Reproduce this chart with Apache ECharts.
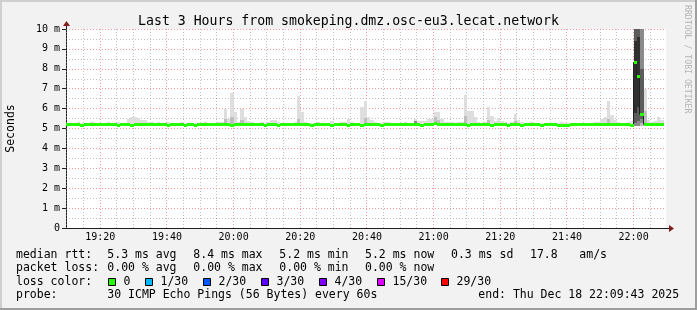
<!DOCTYPE html>
<html><head><meta charset="utf-8">
<script src="https://cdn.jsdelivr.net/npm/echarts@6/dist/echarts.min.js"></script>
<style>html,body{margin:0;padding:0;background:#f2f2f2}#c{width:697px;height:310px}</style>
</head><body><div id="c"></div>
<script>
const FONT = "'DejaVu Sans Mono', monospace";
const titleText = 'Last 3 Hours from smokeping.dmz.osc-eu3.lecat.network';
const startMin = 19 * 60 + 9 + 43 / 60;   // 19:09:43
const endMin = startMin + 180;             // 22:09:43
const firstStepEnd = 19 * 60 + 10;         // first 60 s step ends 19:10
const xTickLabels = ['19:20','19:40','20:00','20:20','20:40','21:00','21:20','21:40','22:00'];
const yTickLabels = ['0','1 m','2 m','3 m','4 m','5 m','6 m','7 m','8 m','9 m','10 m'];

// median rtt per minute (ms)
const median = [
5.2,5.2,5.2,5.2,5.2,5.15,5.2,5.2,5.2,5.2,
5.2,5.2,5.2,5.2,5.2,5.2,5.15,5.2,5.2,5.2,
5.15,5.2,5.2,5.2,5.2,5.2,5.2,5.2,5.2,5.2,
5.2,5.15,5.2,5.2,5.2,5.2,5.15,5.2,5.2,5.15,
5.2,5.2,5.2,5.2,5.2,5.2,5.2,5.2,5.2,5.2,
5.15,5.2,5.2,5.2,5.2,5.2,5.2,5.2,5.2,5.2,
5.15,5.2,5.2,5.2,5.15,5.2,5.2,5.2,5.2,5.2,
5.2,5.2,5.2,5.2,5.15,5.2,5.2,5.2,5.2,5.2,
5.15,5.2,5.2,5.2,5.2,5.15,5.2,5.2,5.2,5.15,
5.2,5.2,5.2,5.2,5.2,5.15,5.2,5.2,5.2,5.2,
5.2,5.2,5.2,5.2,5.2,5.2,5.2,5.15,5.2,5.2,
5.2,5.25,5.2,5.2,5.2,5.2,5.2,5.2,5.2,5.2,
5.2,5.15,5.2,5.2,5.2,5.2,5.2,5.2,5.15,5.2,
5.2,5.2,5.2,5.15,5.2,5.2,5.2,5.15,5.2,5.2,
5.2,5.2,5.2,5.15,5.2,5.2,5.2,5.2,5.15,5.15,
5.15,5.15,5.2,5.2,5.2,5.2,5.2,5.2,5.2,5.2,
5.2,5.2,5.2,5.2,5.2,5.2,5.2,5.2,5.2,5.2,
5.15,8.33,7.63,5.7,5.2,5.2,5.2,5.2,5.2,5.2
];
// fastest ping per minute (ms)
const smokeLo = [
5.14,5.14,5.14,5.14,5.14,5.12,5.14,5.14,5.14,5.14,
5.14,5.14,5.14,5.14,5.14,5.14,5.12,5.14,5.14,5.14,
5.12,5.14,5.14,5.14,5.14,5.14,5.14,5.14,5.14,5.14,
5.14,5.12,5.14,5.14,5.14,5.14,5.12,5.14,5.14,5.12,
5.14,5.14,5.14,5.14,5.14,5.14,5.14,5.14,5.14,5.14,
5.12,5.14,5.14,5.14,5.14,5.14,5.14,5.14,5.14,5.14,
5.12,5.14,5.14,5.14,5.12,5.14,5.14,5.14,5.14,5.14,
5.14,5.14,5.14,5.14,5.12,5.14,5.14,5.14,5.14,5.14,
5.12,5.14,5.14,5.14,5.14,5.12,5.14,5.14,5.14,5.12,
5.14,5.14,5.14,5.14,5.14,5.12,5.14,5.14,5.14,5.14,
5.14,5.14,5.14,5.14,5.14,5.14,5.14,5.12,5.14,5.14,
5.14,5.16,5.14,5.14,5.14,5.14,5.14,5.14,5.14,5.14,
5.14,5.12,5.14,5.14,5.14,5.14,5.14,5.14,5.12,5.14,
5.14,5.14,5.14,5.12,5.14,5.14,5.14,5.12,5.14,5.14,
5.14,5.14,5.14,5.12,5.14,5.14,5.14,5.14,5.12,5.12,
5.12,5.12,5.14,5.14,5.14,5.14,5.14,5.14,5.14,5.14,
5.14,5.14,5.14,5.14,5.14,5.14,5.14,5.14,5.14,5.14,
5.12,5.14,5.14,5.14,5.14,5.14,5.14,5.14,5.14,5.14
];
// slowest ping per minute (ms)
const smokeHi = [
5.3,5.28,5.3,5.3,5.32,5.3,5.28,5.3,5.32,5.3,
5.3,5.3,5.3,5.32,5.3,5.3,5.32,5.3,5.3,5.5,
5.57,5.57,5.55,5.45,5.45,5.35,5.32,5.3,5.33,5.3,
5.3,5.32,5.3,5.3,5.3,5.32,5.3,5.3,5.3,5.3,
5.3,5.3,5.32,5.3,5.3,5.3,5.32,5.35,6.0,5.5,
6.8,5.82,5.35,6.0,5.6,5.4,5.35,5.3,5.3,5.32,
5.3,5.35,5.42,5.42,5.33,5.3,5.3,5.3,5.3,5.32,
6.65,5.82,5.35,5.3,5.3,5.3,5.32,5.3,5.3,5.3,
5.4,5.3,5.3,5.32,5.35,5.48,5.35,5.3,5.3,6.1,
6.37,5.57,5.45,5.32,5.3,5.3,5.35,5.35,5.3,5.3,
5.3,5.3,5.32,5.3,5.3,5.5,5.38,5.38,5.4,5.48,
5.48,5.85,5.85,5.5,5.35,5.33,5.33,5.3,5.32,5.35,
6.68,5.9,5.9,5.57,5.35,5.3,5.32,6.1,5.65,5.4,
5.53,5.4,5.33,5.3,5.32,5.73,5.45,5.33,5.3,5.3,
5.32,5.3,5.3,5.3,5.3,5.3,5.3,5.3,5.3,5.32,
5.3,5.3,5.3,5.3,5.3,5.3,5.3,5.3,5.3,5.35,
5.35,5.5,5.6,6.37,5.7,5.45,5.33,5.3,5.3,5.35,
5.4,12,12,12,7.0,5.45,5.35,5.38,5.57,5.45
];
// inner smoke bands: [minute index, low ms, high ms, shade level]
const smokeBands = [
[48,5.18,5.5,1],[50,5.18,5.6,1],[53,5.18,5.45,1],[70,5.18,5.5,1],
[90,5.18,5.55,1],[105,5.18,5.4,2],[111,5.18,5.6,1],[112,5.18,5.45,1],
[120,5.18,5.65,1],[127,5.18,5.45,1],[135,5.18,5.4,1],[163,5.18,5.5,1],
[171,5.15,12,2],[171,5.3,12,3],[171,5.8,9.4,4],
[172,5.15,12,2],[172,5.4,12,3],[172,6.1,9.6,4],
[173,5.15,12,1],[173,5.3,12,2],[173,5.5,8.0,3],
[174,5.18,5.9,1]
];
const shade = ['#dedede','#bdbdbd','#8a8a8a','#5c5c5c','#303030'];
const lossColor0 = '#26ff00';

const rttStats = ['5.3 ms avg','8.4 ms max','5.2 ms min','5.2 ms now','0.3 ms sd','17.8','am/s'];
const lossStats = ['0.00 % avg','0.00 % max','0.00 % min','0.00 % now'];
const lossLabels = ['0','1/30','2/30','3/30','4/30','15/30','29/30'];
const lossColors = ['#26ff00','#00b8ff','#0059ff','#5e00ff','#7e00ff','#dd00ff','#ff0000'];
const probeText = '30 ICMP Echo Pings (56 Bytes) every 60s';
const endText = 'end: Thu Dec 18 22:09:43 2025';

const GRIDC = 'rgba(150,150,150,0.6)';
const MGRIDC = 'rgba(235,90,90,0.6)';

function hhmm(m) {
  const h = Math.floor(m / 60), mm = Math.round(m % 60);
  return String(h).padStart(2, '0') + ':' + String(mm).padStart(2, '0');
}
const xTickVals = xTickLabels.map(s => { const p = s.split(':'); return +p[0] * 60 + +p[1]; });

// smoke boxes
const smokeData = [];
for (let i = 0; i < smokeHi.length; i++) smokeData.push([firstStepEnd - 1 + i, firstStepEnd + i, smokeLo[i], smokeHi[i], 0]);
smokeBands.forEach(b => smokeData.push([firstStepEnd - 1 + b[0], firstStepEnd + b[0], b[1], b[2], b[3]]));
// median segments
const medData = median.map((m, i) => [firstStepEnd - 1 + i, firstStepEnd + i, m]);
const connData = [];
for (let i = 1; i < median.length; i++) if (median[i] !== median[i - 1]) connData.push([firstStepEnd - 1 + i, median[i - 1], median[i]]);
// vertical grid times (every 5 min)
const gridTimes = [];
for (let t = Math.ceil(startMin / 5) * 5; t <= endMin; t += 5) gridTimes.push([t, t % 20 === 0 ? 1 : 0]);

function csRect(params) {
  return { x: params.coordSys.x, y: params.coordSys.y, width: params.coordSys.width, height: params.coordSys.height };
}

const chart = echarts.init(document.getElementById('c'), null, { renderer: 'canvas' });
const option = {
  animation: false,
  backgroundColor: '#f2f2f2',
  title: {
    text: titleText, left: 'center', top: 10,
    textStyle: { fontFamily: FONT, fontSize: 13.2, fontWeight: 'normal', color: '#000' }
  },
  grid: { left: 66, top: 29, width: 600, height: 199, show: true, backgroundColor: '#ffffff', borderWidth: 0,
    containLabel: false, outerBoundsMode: 'none' },
  xAxis: {
    type: 'value', min: startMin, max: endMin,
    axisLine: { show: true, onZero: false, lineStyle: { color: '#1f1f1f', width: 1 } },
    axisTick: { show: false },
    splitLine: { show: false },
    axisLabel: { customValues: xTickVals, formatter: v => hhmm(v), fontFamily: FONT, fontSize: 10, color: '#000', margin: 4 }
  },
  yAxis: {
    type: 'value', min: 0, max: 10, interval: 1,
    name: 'Seconds', nameLocation: 'middle', nameGap: 49,
    nameTextStyle: { fontFamily: FONT, fontSize: 11.5, color: '#000' },
    axisLine: { show: true, lineStyle: { color: '#1f1f1f', width: 1 } },
    axisTick: { show: true, length: 4, lineStyle: { color: '#1f1f1f' } },
    axisLabel: { fontFamily: FONT, fontSize: 10, color: '#000', margin: 6, formatter: v => yTickLabels[Math.round(v)] },
    splitLine: { show: true, lineStyle: { color: MGRIDC, type: [1, 2] } },
    minorTick: { show: false, splitNumber: 2 },
    minorSplitLine: { show: true, lineStyle: { color: GRIDC, type: [1, 2] } }
  },
  series: [
    {
      type: 'custom', name: 'vgrid', z: 1, silent: true, data: gridTimes,
      renderItem: function (params, api) {
        const p0 = api.coord([api.value(0), 0]);
        const p1 = api.coord([api.value(0), 10]);
        const x = Math.floor(p0[0]) + 0.5;
        return { type: 'line', shape: { x1: x, y1: p1[1], x2: x, y2: p0[1] },
          style: { stroke: api.value(1) ? MGRIDC : GRIDC, lineWidth: 1, lineDash: [1, 2] } };
      }
    },
    {
      type: 'custom', name: 'smoke', z: 2, silent: true, data: smokeData,
      renderItem: function (params, api) {
        const p0 = api.coord([api.value(0), api.value(3)]);
        const p1 = api.coord([api.value(1), api.value(2)]);
        const x0 = Math.round(p0[0]), x1 = Math.round(p1[0]);
        const y0 = Math.round(p0[1]), y1 = Math.round(p1[1]);
        const r = echarts.graphic.clipRectByRect({ x: x0, y: y0, width: x1 - x0, height: y1 - y0 }, csRect(params));
        if (!r) return;
        return { type: 'rect', shape: r, style: { fill: shade[api.value(4)] } };
      }
    },
    {
      type: 'custom', name: 'medianStep', z: 3, silent: true, data: connData,
      renderItem: function (params, api) {
        const a = api.coord([api.value(0), api.value(1)]);
        const b = api.coord([api.value(0), api.value(2)]);
        const x = Math.round(a[0]) - 0.5;
        return { type: 'line', shape: { x1: x, y1: a[1], x2: x, y2: b[1] }, style: { stroke: '#202020', lineWidth: 1 } };
      }
    },
    {
      type: 'custom', name: 'median', z: 4, silent: true, data: medData,
      renderItem: function (params, api) {
        const a = api.coord([api.value(0), api.value(2)]);
        const b = api.coord([api.value(1), api.value(2)]);
        const x0 = Math.round(a[0]), x1 = Math.round(b[0]);
        const y0 = Math.round(a[1] - 1.5);
        const r = echarts.graphic.clipRectByRect({ x: x0, y: y0, width: x1 - x0, height: 3 }, csRect(params));
        if (!r) return;
        return { type: 'rect', shape: r, style: { fill: lossColor0 } };
      }
    }
  ]
};
chart.setOption(option);

// decorations: frame, arrows, legend text
const tl = chart.convertToPixel({ gridIndex: 0 }, [startMin, 10]);
const br = chart.convertToPixel({ gridIndex: 0 }, [endMin, 0]);
const ax = Math.round(tl[0]) + 0.5, ay = Math.round(br[1]) + 0.5;
const txt = (x, y, s) => ({ type: 'text', x: x, y: y, silent: true,
  style: { text: s, font: '11.5px ' + FONT, fill: '#000', textAlign: 'left', textVerticalAlign: 'middle' } });
const g = [
  { type: 'rect', shape: { x: 0, y: 0, width: 697, height: 2 }, style: { fill: '#cfcfcf' } },
  { type: 'rect', shape: { x: 0, y: 0, width: 2, height: 310 }, style: { fill: '#cfcfcf' } },
  { type: 'rect', shape: { x: 0, y: 308, width: 697, height: 2 }, style: { fill: '#9e9e9e' } },
  { type: 'rect', shape: { x: 695, y: 0, width: 2, height: 310 }, style: { fill: '#9e9e9e' } },
  { type: 'line', shape: { x1: ax, y1: tl[1], x2: ax, y2: tl[1] - 4 }, style: { stroke: '#1f1f1f', lineWidth: 1 } },
  { type: 'polygon', shape: { points: [[ax - 3.5, tl[1] - 3], [ax + 3.5, tl[1] - 3], [ax, tl[1] - 8]] }, style: { fill: '#801f1f' } },
  { type: 'line', shape: { x1: br[0], y1: ay, x2: br[0] + 4, y2: ay }, style: { stroke: '#1f1f1f', lineWidth: 1 } },
  { type: 'polygon', shape: { points: [[br[0] + 3, ay - 3.5], [br[0] + 3, ay + 3.5], [br[0] + 8, ay]] }, style: { fill: '#801f1f' } },
  { type: 'text', x: 687, y: 5, rotation: -Math.PI / 2, silent: true,
    style: { text: 'RRDTOOL / TOBI OETIKER', font: '8.2px ' + FONT, fill: '#b4b4b4', textAlign: 'left', textVerticalAlign: 'middle' } },
  txt(16, 254.8, 'median rtt:'),
  txt(16, 268.2, 'packet loss:'),
  txt(16, 281.6, 'loss color:'),
  txt(16, 295, 'probe:'),
  txt(107.3, 295, probeText),
  txt(478.3, 295, endText)
];
const rttX = [107.3, 193.3, 279.3, 365, 451, 530, 579.3];
rttStats.forEach((s, i) => g.push(txt(rttX[i], 254.8, s)));
const lossX = [107.3, 193.3, 279.3, 365];
lossStats.forEach((s, i) => g.push(txt(lossX[i], 268.2, s)));
const boxX = [108.5, 145.5, 203.5, 261.5, 319.5, 377.5, 441.5];
lossLabels.forEach((s, i) => {
  g.push({ type: 'rect', shape: { x: boxX[i], y: 278.5, width: 7, height: 7 }, style: { fill: lossColors[i], stroke: '#000', lineWidth: 1 } });
  g.push(txt(boxX[i] + 15, 281.6, s));
});
chart.setOption({ graphic: g });
</script></body></html>
